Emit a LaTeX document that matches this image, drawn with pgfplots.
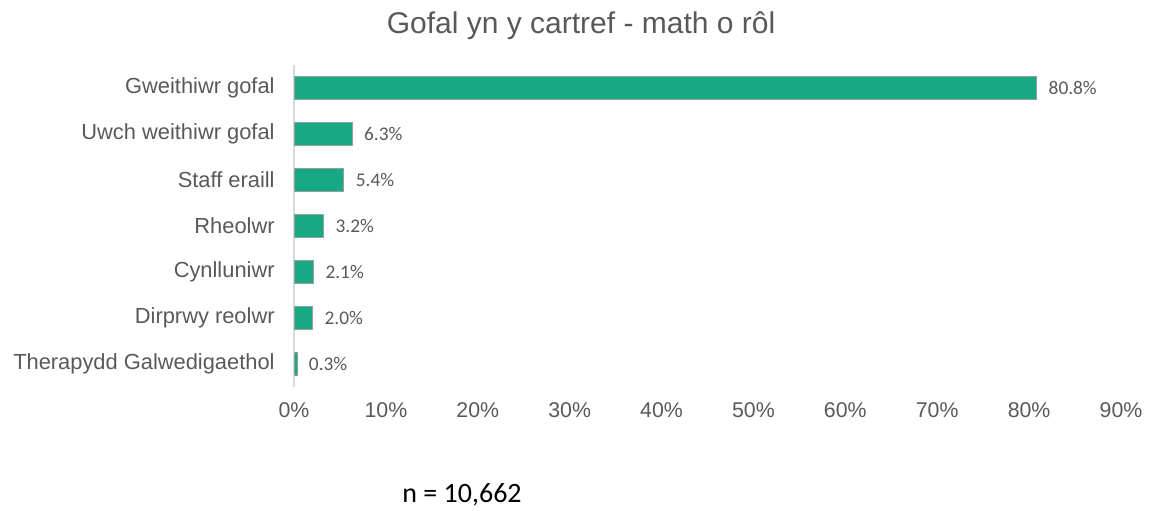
\documentclass[border=0pt]{standalone}
\usepackage{fontspec}
\setmainfont{Liberation Sans}
\newfontfamily\calibri{Carlito}
\usepackage{pgfplots}
\pgfplotsset{compat=1.18}
\definecolor{barcol}{RGB}{23,168,132}
\definecolor{txtgray}{RGB}{89,89,89}
\definecolor{edgegray}{RGB}{150,160,155}
\definecolor{axgray}{RGB}{217,217,217}

\begin{document}
\begin{tikzpicture}
\path[use as bounding box] (0,0) rectangle (863.25pt,382.5pt);
\begin{axis}[
    at={(220.5pt,92.25pt)}, anchor=south west,
    scale only axis,
    width=620.25pt, height=241.5pt,
    xbar, bar width=0.5,
    xmin=0, xmax=90,
    ymin=-0.5, ymax=6.5,
    y dir=reverse,
    axis line style={draw=none},
    major tick length=0pt,
    xtick={0,10,...,90},
    xticklabels={0\%,10\%,20\%,30\%,40\%,50\%,60\%,70\%,80\%,90\%},
    ytick={0,...,6},
    yticklabels={Gweithiwr gofal,Uwch weithiwr gofal,Staff eraill,Rheolwr,Cynlluniwr,Dirprwy reolwr,Therapydd Galwedigaethol},
    ticklabel style={text=txtgray},
    xticklabel style={font=\fontsize{16}{19}\selectfont, yshift=-8pt},
    yticklabel style={font=\fontsize{16.4}{19}\selectfont, xshift=-11pt},
    point meta=explicit symbolic,
    nodes near coords,
    every node near coord/.append style={font=\calibri\fontsize{14.5}{17}\selectfont, text=txtgray, anchor=west, inner sep=0pt, xshift=9pt},
    clip=false,
]
\draw[axgray, line width=0.8pt] (axis cs:0,-0.5) -- (axis cs:0,6.5);
%roles
\addplot[fill=barcol, draw=edgegray, line width=0.35pt] coordinates {
    (80.8,0) [80.8\%]
    (6.3,1) [6.3\%]
    (5.4,2) [5.4\%]
    (3.2,3) [3.2\%]
    (2.1,4) [2.1\%]
    (2.0,5) [2.0\%]
    (0.3,6) [0.3\%]
};
\end{axis}
\node[font=\fontsize{22.5}{26}\selectfont, text=txtgray] at (435.75pt,363pt) {Gofal yn y cartref - math o rôl};
\node[font=\calibri\fontsize{21}{25}\selectfont, text=black] at (346.5pt,11.25pt) {n = 10,662};
\end{tikzpicture}
\end{document}
